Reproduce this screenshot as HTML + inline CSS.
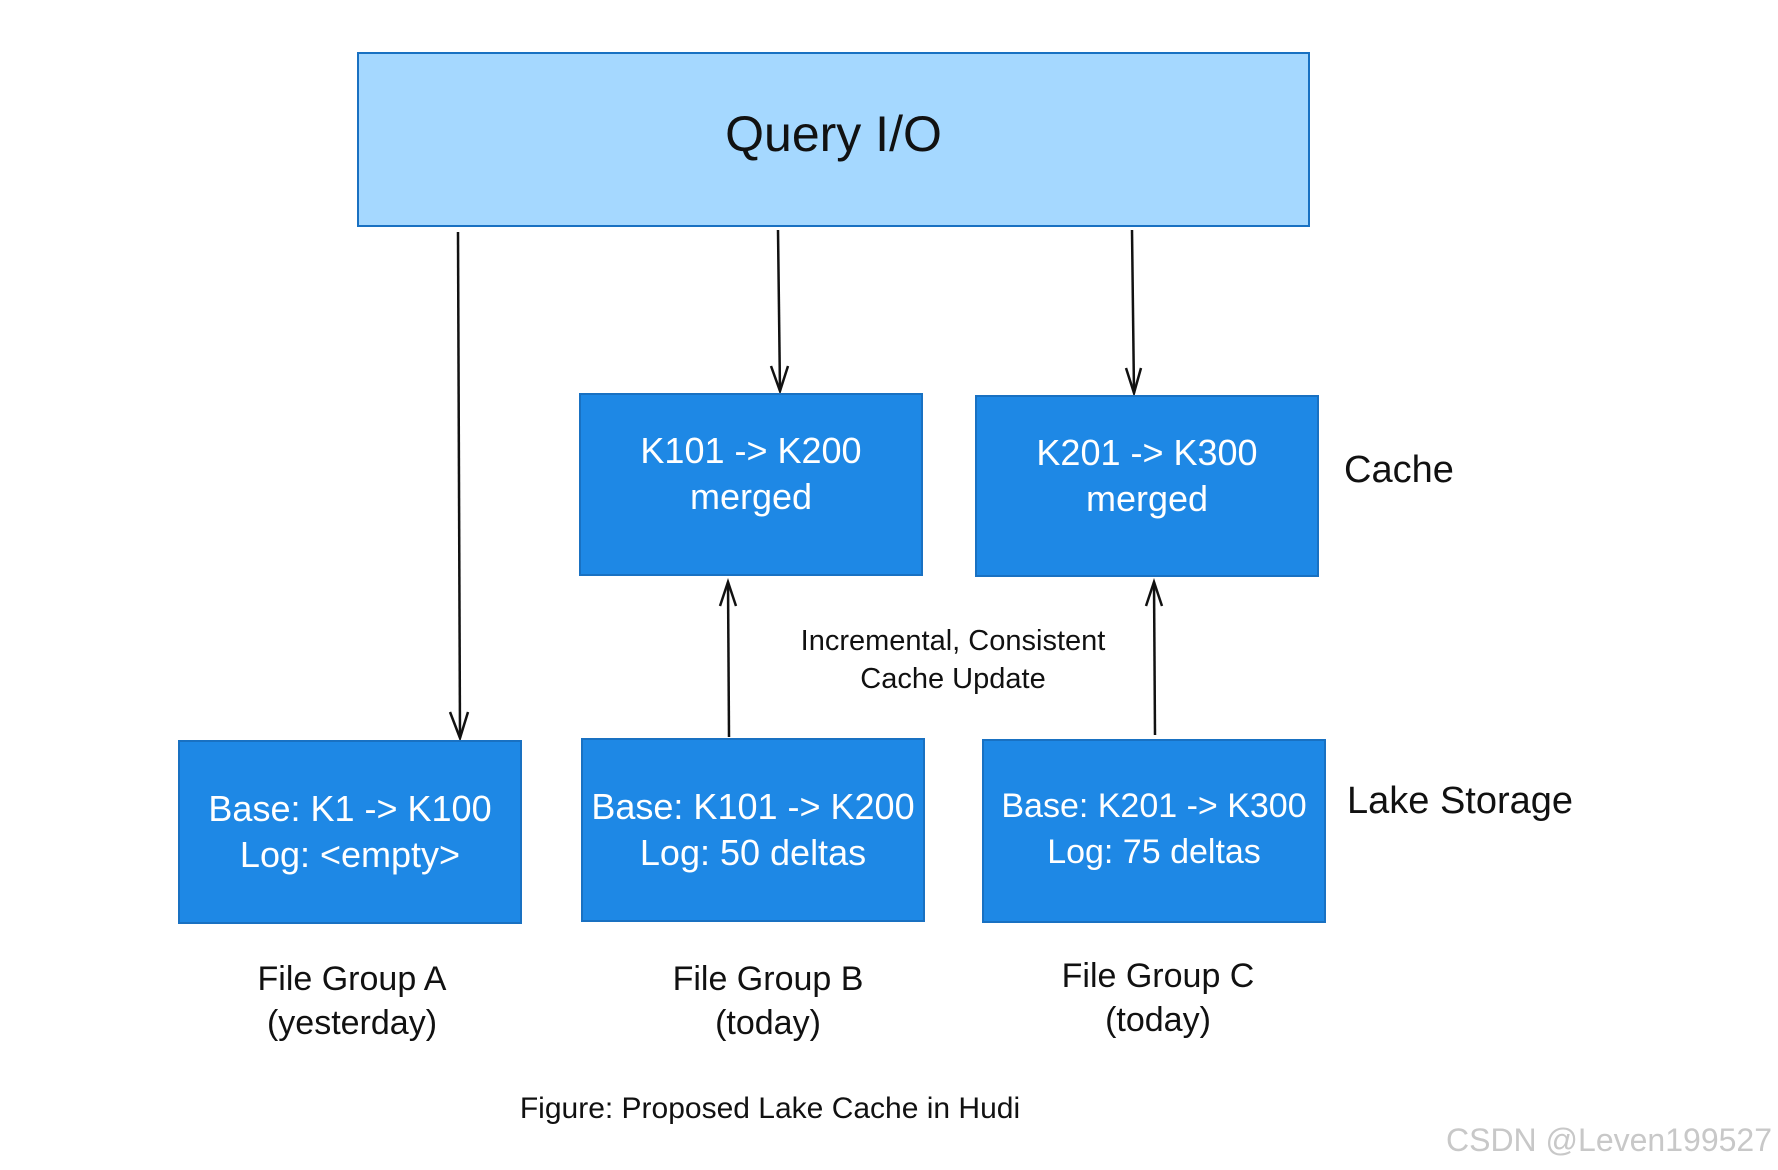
<!DOCTYPE html>
<html><head><meta charset="utf-8"><style>
body{margin:0;width:1778px;height:1170px;background:#fff;position:relative;overflow:hidden;font-family:"Liberation Sans",sans-serif}
.b{position:absolute;box-sizing:border-box;border:2px solid #1971c2;background:#1e88e5;color:#fff;text-align:center;font-size:36px;line-height:46px}
.t{position:absolute;text-align:center;font-size:34px;line-height:44px;color:#111}
</style></head><body>
<svg width="1778" height="1170" style="position:absolute;left:0;top:0">
<g stroke="#111" stroke-width="2.5" fill="none">
<line x1="458" y1="232" x2="460" y2="738"/><polyline points="450,712 460,738 468,712"/>
<line x1="778" y1="230" x2="780" y2="391"/><polyline points="771,366 780,391 788,366"/>
<line x1="1132" y1="230" x2="1134" y2="393"/><polyline points="1126,368 1134,393 1141,368"/>
<line x1="729" y1="737" x2="728" y2="582"/><polyline points="720,606 728,582 736,606"/>
<line x1="1155" y1="735" x2="1154" y2="582"/><polyline points="1146,606 1154,582 1162,606"/>
</g></svg>
<div class="b" style="left:357px;top:52px;width:953px;height:175px;background:#a5d8ff;color:#111;font-size:50px;line-height:160px">Query I/O</div>
<div class="b" style="left:579px;top:393px;width:344px;height:183px;padding-top:33px">K101 -&gt; K200<br>merged</div>
<div class="b" style="left:975px;top:395px;width:344px;height:182px;padding-top:33px">K201 -&gt; K300<br>merged</div>
<div class="b" style="left:178px;top:740px;width:344px;height:184px;padding-top:44px">Base: K1 -&gt; K100<br>Log: &lt;empty&gt;</div>
<div class="b" style="left:581px;top:738px;width:344px;height:184px;padding-top:44px">Base: K101 -&gt; K200<br>Log: 50 deltas</div>
<div class="b" style="left:982px;top:739px;width:344px;height:184px;padding-top:42px;font-size:34px">Base: K201 -&gt; K300<br>Log: 75 deltas</div>
<div class="t" style="left:1344px;top:448px;text-align:left;font-size:38px">Cache</div>
<div class="t" style="left:1347px;top:779px;text-align:left;font-size:38px">Lake Storage</div>
<div class="t" style="left:753px;top:622px;width:400px;font-size:29px;line-height:38px">Incremental, Consistent<br>Cache Update</div>
<div class="t" style="left:202px;top:957px;width:300px">File Group A<br>(yesterday)</div>
<div class="t" style="left:618px;top:957px;width:300px">File Group B<br>(today)</div>
<div class="t" style="left:1008px;top:954px;width:300px">File Group C<br>(today)</div>
<div class="t" style="left:420px;top:1091px;width:700px;font-size:30px;line-height:36px">Figure: Proposed Lake Cache in Hudi</div>
<div class="t" style="left:1400px;top:1122px;width:372px;text-align:right;font-size:32px;line-height:36px;color:#c8c8c8">CSDN @Leven199527</div>
</body></html>
